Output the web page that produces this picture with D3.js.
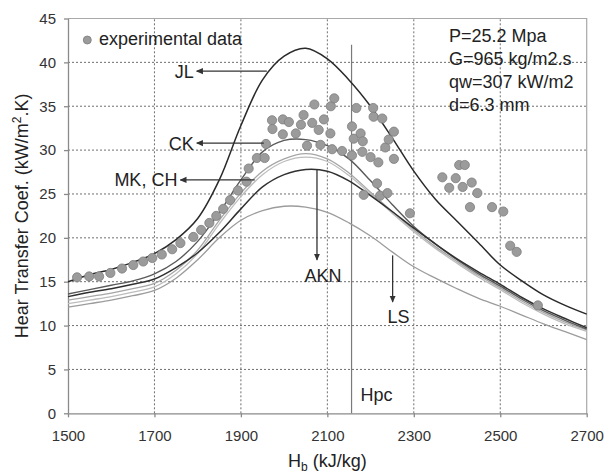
<!DOCTYPE html>
<html lang="en">
<head>
<meta charset="UTF-8">
<title>Heat transfer coefficient vs bulk enthalpy</title>
<script src="https://d3js.org/d3.v7.min.js"></script>
<style>
  body { margin: 0; background: #fff; }
  svg text { font-family: "Liberation Sans", Arial, sans-serif; fill: #222; }
  .grid line { stroke: #6f6f6f; stroke-width: 1; stroke-dasharray: 2,2; }
  .axis path, .axis line { stroke: #8a8a8a; stroke-width: 1.3; }
  .axis text { font-size: 15px; fill: #333; }
</style>
</head>
<body>
<svg id="chart"></svg>
<script>
// bulk enthalpy grid (kJ/kg) for the correlation curves
var hb = [1500, 1550, 1600, 1650, 1700, 1750, 1800, 1850, 1900, 1950, 2000, 2050, 2100,
          2150, 2200, 2250, 2300, 2350, 2400, 2450, 2500, 2550, 2600, 2650, 2700];

// heat transfer coefficient (kW/m2.K) from each correlation
var jl  = [15.0, 15.8, 16.4, 17.2, 18.2, 19.8, 22.2, 26.6, 32.8, 38.0, 40.7, 41.6, 40.4,
           38.0, 35.0, 31.4, 27.6, 24.4, 21.9, 19.4, 16.9, 15.1, 13.5, 12.3, 11.3];
var ck  = [13.6, 14.1, 14.6, 15.1, 15.9, 17.3, 19.6, 22.9, 26.6, 29.8, 31.1, 31.2, 30.5,
           29.0, 26.5, 23.8, 21.3, 19.3, 17.5, 15.9, 14.5, 13.0, 11.7, 10.6, 9.6];
var mk  = [12.9, 13.3, 13.7, 14.2, 14.8, 16.3, 18.6, 22.0, 25.1, 27.6, 29.0, 29.6, 29.0,
           27.4, 25.2, 23.0, 20.9, 19.0, 17.3, 15.7, 14.3, 12.8, 11.5, 10.4, 9.5];
var ch  = [12.5, 12.9, 13.3, 13.8, 14.4, 15.9, 18.2, 21.6, 24.7, 27.2, 28.7, 29.2, 28.7,
           27.1, 25.0, 22.8, 20.7, 18.8, 17.1, 15.5, 14.1, 12.6, 11.3, 10.2, 9.35];
var akn = [13.3, 13.8, 14.2, 14.7, 15.3, 16.6, 18.3, 20.6, 23.3, 25.8, 27.2, 27.8, 27.6,
           26.5, 24.8, 23.0, 21.1, 19.3, 17.6, 16.1, 14.7, 13.2, 11.9, 10.8, 9.75];
var ls  = [12.1, 12.5, 12.9, 13.4, 14.0, 15.4, 17.5, 20.0, 22.0, 23.1, 23.6, 23.5, 22.9,
           21.7, 20.2, 18.4, 16.7, 15.4, 14.2, 13.1, 12.2, 11.2, 10.2, 9.3, 8.4];

// experimental data
var expH = [1521, 1549, 1572, 1598, 1625, 1651, 1674, 1695, 1717, 1741, 1760, 1790, 1808,
            1827, 1843, 1859, 1875, 1893, 1913, 1918, 1937, 1955, 1958, 1972, 1973, 1997,
            1997, 2011, 2027, 2039, 2045, 2053, 2065, 2070, 2080, 2084, 2092, 2107, 2108,
            2111, 2116, 2134, 2157, 2157, 2161, 2167, 2177, 2182, 2181, 2184, 2200, 2206,
            2207, 2215, 2218, 2222, 2227, 2234, 2239, 2242, 2254, 2254, 2291, 2366, 2382,
            2397, 2405, 2418, 2413, 2430, 2434, 2447, 2481, 2507, 2523, 2538, 2587];
var expHtc = [15.5, 15.6, 15.6, 16.0, 16.5, 16.9, 17.3, 17.7, 18.1, 18.7, 19.4, 20.1, 20.9,
              21.7, 22.5, 23.3, 24.3, 25.4, 26.4, 27.9, 29.1, 29.1, 30.7, 33.4, 32.4, 33.5,
              31.8, 33.2, 31.9, 32.9, 34.0, 30.5, 33.1, 35.2, 32.3, 30.6, 33.5, 31.9, 35.0,
              30.1, 35.9, 29.9, 29.4, 32.7, 31.3, 34.8, 31.9, 31.0, 29.8, 24.9, 29.2, 34.8,
              33.8, 26.2, 28.6, 24.8, 33.6, 30.3, 25.1, 31.2, 32.1, 29.0, 22.8, 26.9, 25.7,
              26.8, 28.3, 28.3, 25.8, 23.5, 26.3, 25.1, 23.5, 23.0, 19.1, 18.4, 12.3];

var xTicks = [1500, 1700, 1900, 2100, 2300, 2500, 2700];
var yTicks = [0, 5, 10, 15, 20, 25, 30, 35, 40, 45];
var hpc = 2156;

var series = [
  {name: "LS",  values: ls,  color: "#9c9c9c", w: 1.3},
  {name: "CH",  values: ch,  color: "#bdbdbd", w: 1.3},
  {name: "MK",  values: mk,  color: "#a6a6a6", w: 1.3},
  {name: "CK",  values: ck,  color: "#5a5a5a", w: 1.4},
  {name: "AKN", values: akn, color: "#303030", w: 1.5},
  {name: "JL",  values: jl,  color: "#2a2a2a", w: 1.5}
];

var config = {
  width: 605,
  height: 473,
  margin: {top: 18.5, right: 18.3, bottom: 59.7, left: 68}
};

var m = config.margin,
    w = config.width - m.left - m.right,
    h = config.height - m.top - m.bottom;

var svg = d3.select("#chart")
    .attr("width", config.width)
    .attr("height", config.height);

var x = d3.scaleLinear().domain([1500, 2700]).range([m.left, m.left + w]);
var y = d3.scaleLinear().domain([0, 45]).range([m.top + h, m.top]);

// arrowhead
svg.append("defs").append("marker")
    .attr("id", "arrow")
    .attr("viewBox", "0 0 8 8")
    .attr("refX", 7).attr("refY", 4)
    .attr("markerWidth", 7).attr("markerHeight", 7)
    .attr("markerUnits", "userSpaceOnUse")
    .attr("orient", "auto")
  .append("path")
    .attr("d", "M0,0.5L8,4L0,7.5Z")
    .attr("fill", "#333");

// grid
var grid = svg.append("g").attr("class", "grid");
grid.selectAll(".gx")
    .data(xTicks.slice(1, -1))
  .enter().append("line")
    .attr("x1", d => x(d)).attr("x2", d => x(d))
    .attr("y1", y(0)).attr("y2", y(45));
grid.selectAll(".gy")
    .data(yTicks.slice(1, -1))
  .enter().append("line")
    .attr("x1", x(1500)).attr("x2", x(2700))
    .attr("y1", d => y(d)).attr("y2", d => y(d));

// frame (top / right)
svg.append("path")
    .attr("d", `M${x(1500)},${y(45)}H${x(2700)}V${y(0)}`)
    .attr("fill", "none")
    .attr("stroke", "#a8a8a8")
    .attr("stroke-width", 1.2);

// axes
svg.append("g")
    .attr("class", "axis")
    .attr("transform", `translate(0,${y(0)})`)
    .call(d3.axisBottom(x).tickValues(xTicks).tickSize(4).tickPadding(13).tickSizeOuter(0).tickFormat(d3.format("d")));

svg.append("g")
    .attr("class", "axis")
    .attr("transform", `translate(${x(1500)},0)`)
    .call(d3.axisLeft(y).tickValues(yTicks).tickSize(4).tickPadding(8).tickSizeOuter(0));

// Hpc line
svg.append("line")
    .attr("x1", x(hpc)).attr("x2", x(hpc))
    .attr("y1", y(42)).attr("y2", y(0))
    .attr("stroke", "#7a7a7a")
    .attr("stroke-width", 1.2);

svg.append("text")
    .attr("x", x(hpc) + 9).attr("y", y(1.45))
    .style("font-size", "18px")
    .text("Hpc");

// correlation curves
var line = d3.line()
    .x((d, i) => x(hb[i]))
    .y(d => y(d))
    .curve(d3.curveCatmullRom.alpha(0.5));

svg.selectAll(".curve")
    .data(series)
  .enter().append("path")
    .attr("class", "curve")
    .attr("d", d => line(d.values))
    .attr("fill", "none")
    .attr("stroke", d => d.color)
    .attr("stroke-width", d => d.w);

// experimental points
svg.selectAll(".pt")
    .data(expH)
  .enter().append("circle")
    .attr("class", "pt")
    .attr("cx", d => x(d))
    .attr("cy", (d, i) => y(expHtc[i]))
    .attr("r", 4.6)
    .attr("fill", "#9b9b9b")
    .attr("stroke", "#7d7d7d")
    .attr("stroke-width", 0.8);

// curve labels with arrows
var ann = svg.append("g");
function hArrow(x0, x1, yv, label) {
  ann.append("line")
      .attr("x1", x(x0)).attr("x2", x(x1))
      .attr("y1", y(yv)).attr("y2", y(yv))
      .attr("stroke", "#333").attr("stroke-width", 1.3)
      .attr("marker-end", "url(#arrow)");
  ann.append("text")
      .attr("x", x(x1) - 3).attr("y", y(yv))
      .attr("dy", "0.36em")
      .attr("text-anchor", "end")
      .style("font-size", "18px")
      .text(label);
}
function vArrow(xv, y0, y1, label, ly) {
  ann.append("line")
      .attr("x1", x(xv)).attr("x2", x(xv))
      .attr("y1", y(y0)).attr("y2", y(y1))
      .attr("stroke", "#333").attr("stroke-width", 1.3)
      .attr("marker-end", "url(#arrow)");
  ann.append("text")
      .attr("x", x(xv) + 6).attr("y", y(ly))
      .attr("text-anchor", "middle")
      .style("font-size", "18px")
      .text(label);
}
hArrow(1960, 1798, 39.0, "JL");
hArrow(1953, 1798, 30.8, "CK");
hArrow(1932, 1760, 26.6, "MK, CH");
vArrow(2076, 27.8, 17.5, "AKN", 15.0);
vArrow(2251, 18.0, 12.7, "LS", 10.3);

// legend
svg.append("circle")
    .attr("cx", 87.3).attr("cy", 40)
    .attr("r", 4)
    .attr("fill", "#9b9b9b")
    .attr("stroke", "#7d7d7d")
    .attr("stroke-width", 0.8);
svg.append("text")
    .attr("x", 99).attr("y", 45)
    .style("font-size", "18px")
    .text("experimental data");

// test conditions
var cond = ["P=25.2 Mpa", "G=965 kg/m2.s", "qw=307 kW/m2", "d=6.3 mm"];
svg.selectAll(".cond")
    .data(cond)
  .enter().append("text")
    .attr("class", "cond")
    .attr("x", 449)
    .attr("y", (d, i) => 41.7 + i * 23)
    .style("font-size", "18px")
    .text(d => d);

// axis titles
var yl = svg.append("text")
    .attr("transform", `translate(28,${m.top + h / 2}) rotate(-90)`)
    .attr("text-anchor", "middle")
    .style("font-size", "18px");
yl.append("tspan").text("Hear Transfer Coef. (kW/m");
yl.append("tspan").attr("dy", -7).style("font-size", "12px").text("2");
yl.append("tspan").attr("dy", 7).text(".K)");

var xl = svg.append("text")
    .attr("x", m.left + w / 2).attr("y", 467)
    .attr("text-anchor", "middle")
    .style("font-size", "18px");
xl.append("tspan").text("H");
xl.append("tspan").attr("dy", 4).style("font-size", "12px").text("b");
xl.append("tspan").attr("dy", -4).text(" (kJ/kg)");
</script>
</body>
</html>
